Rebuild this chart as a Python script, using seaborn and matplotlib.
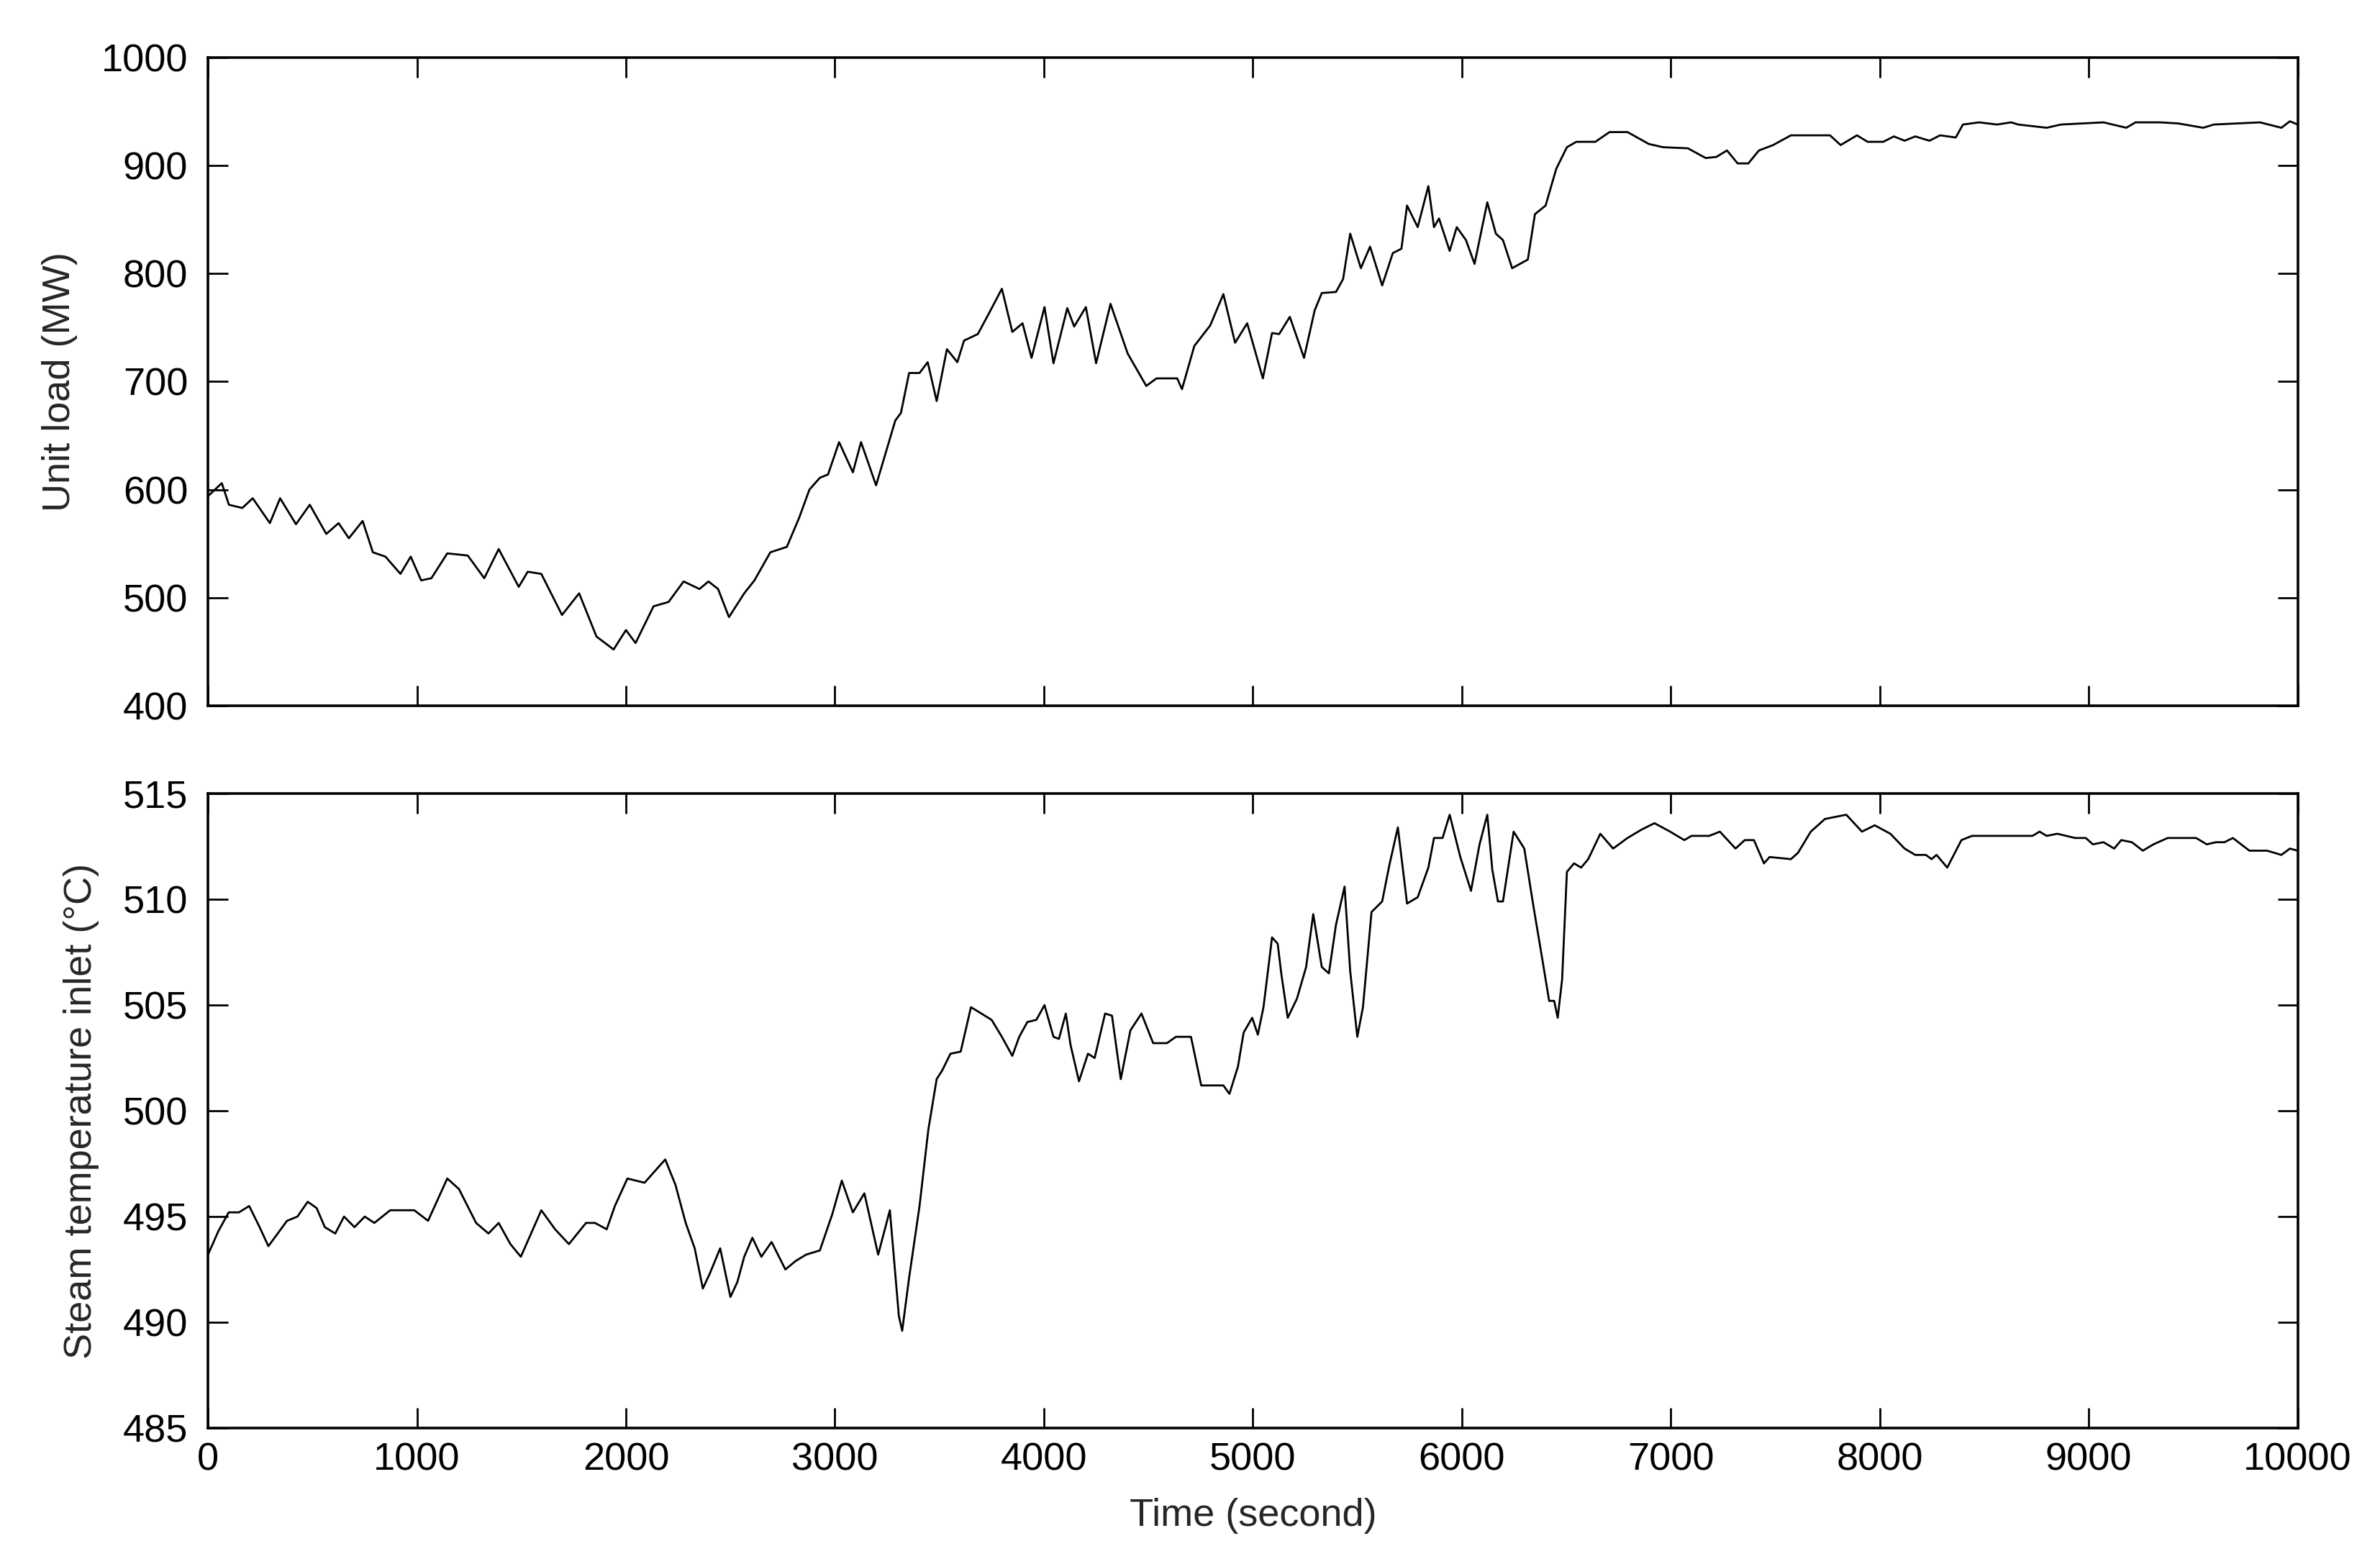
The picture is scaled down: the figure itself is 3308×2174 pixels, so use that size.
import matplotlib
matplotlib.use("Agg")
import matplotlib.pyplot as plt
import seaborn as sns
import pandas as pd
from matplotlib import font_manager

# unit load (MW)
load_time = [0, 66, 100, 164, 214, 296, 345, 421, 487, 566, 625, 674, 740, 789, 849,
             921, 970, 1020, 1069, 1145, 1243, 1322, 1391, 1487, 1530, 1595, 1694, 1776,
             1859, 1941, 2000, 2046, 2132, 2204, 2276, 2352, 2395, 2441, 2493, 2566, 2615,
             2691, 2770, 2829, 2878, 2928, 2967, 3020, 3086, 3125, 3197, 3240, 3289, 3316,
             3355, 3405, 3444, 3487, 3536, 3586, 3618, 3684, 3734, 3799, 3849, 3898, 3941,
             4003, 4046, 4112, 4145, 4201, 4250, 4319, 4401, 4490, 4539, 4638, 4661, 4720,
             4796, 4859, 4915, 4973, 5048, 5092, 5126, 5177, 5245, 5296, 5330, 5398, 5432,
             5466, 5517, 5561, 5619, 5670, 5711, 5738, 5789, 5840, 5867, 5891, 5942, 5976,
             6020, 6061, 6122, 6163, 6197, 6241, 6316, 6350, 6401, 6452, 6503, 6548, 6639,
             6707, 6793, 6895, 6963, 7082, 7167, 7218, 7269, 7320, 7371, 7422, 7490, 7575,
             7762, 7813, 7891, 7942, 8017, 8068, 8119, 8170, 8238, 8289, 8364, 8398, 8476,
             8561, 8629, 8663, 8799, 8867, 9071, 9180, 9224, 9343, 9429, 9548, 9599, 9820,
             9922, 9963, 10000]
load_mw = [594, 606, 586, 583, 592, 569, 592, 568, 586, 559, 569, 555, 571, 542, 538,
           522, 538, 516, 518, 541, 539, 518, 545, 510, 524, 522, 484, 504,
           464, 452, 470, 458, 492, 496, 515, 508, 515, 508, 482, 504, 516,
           542, 547, 574, 600, 611, 614, 644, 616, 644, 604, 632, 664, 671,
           708, 708, 718, 682, 730, 718, 738, 744, 762, 786, 746, 754, 722,
           769, 717, 768, 751, 769, 717, 772, 726, 696, 703, 703, 693, 733,
           752, 781, 736, 754, 703, 745, 744, 760, 722, 766, 782, 783, 795,
           837, 805, 825, 789, 819, 823, 863, 843, 881, 843, 851, 821, 843,
           831, 809, 866, 837, 831, 805, 813, 855, 863, 897, 917, 922, 922,
           931, 931, 920, 917, 916, 907, 908, 914, 902, 902, 914, 919, 928,
           928, 919, 928, 922, 922, 927, 923, 927, 923, 928, 926, 938, 940,
           938, 940, 938, 935, 938, 940, 935, 940, 940, 939, 935, 938, 940,
           935, 941, 938]

# steam temperature at inlet (deg C)
temp_time = [0, 49, 99, 148, 197, 247, 289, 378, 428, 477, 520, 559, 609, 651, 701,
             750, 796, 872, 987, 1053, 1145, 1201, 1283, 1342, 1391, 1447, 1497, 1595,
             1661, 1727, 1809, 1852, 1908, 1947, 2007, 2089, 2188, 2237, 2286, 2329, 2368,
             2401, 2451, 2500, 2533, 2566, 2605, 2648, 2697, 2763, 2812, 2862, 2928, 2987,
             3033, 3086, 3141, 3207, 3263, 3306, 3322, 3355, 3405, 3447, 3487, 3513, 3553,
             3602, 3651, 3701, 3750, 3799, 3849, 3882, 3921, 3964, 4003, 4046, 4072, 4105,
             4128, 4168, 4211, 4243, 4293, 4326, 4368, 4414, 4467, 4523, 4589, 4632, 4704,
             4753, 4859, 4888, 4929, 4956, 4997, 5024, 5051, 5092, 5119, 5136, 5167, 5211,
             5255, 5289, 5330, 5364, 5398, 5439, 5466, 5500, 5527, 5568, 5619, 5653, 5694,
             5738, 5789, 5840, 5867, 5908, 5942, 5993, 6044, 6085, 6122, 6146, 6173, 6197,
             6248, 6299, 6344, 6378, 6418, 6442, 6459, 6480, 6503, 6537, 6571, 6605, 6663,
             6724, 6793, 6861, 6922, 6997, 7065, 7099, 7184, 7235, 7310, 7354, 7398, 7446,
             7473, 7575, 7609, 7670, 7738, 7840, 7915, 7976, 8051, 8119, 8170, 8221, 8248,
             8272, 8323, 8391, 8442, 8595, 8731, 8765, 8799, 8850, 8935, 8986, 9020, 9071,
             9122, 9156, 9207, 9259, 9310, 9378, 9514, 9565, 9609, 9650, 9690, 9769, 9854,
             9922, 9963, 10000]
temp_c = [493.2, 494.3, 495.2, 495.2, 495.5, 494.5, 493.6, 494.8, 495.0, 495.7, 495.4, 494.5,
          494.2, 495.0, 494.5, 495.0, 494.7, 495.3, 495.3, 494.8, 496.8, 496.3, 494.7, 494.2,
          494.7, 493.7, 493.1, 495.3, 494.4, 493.7, 494.7, 494.7, 494.4, 495.5, 496.8, 496.6,
          497.7, 496.5, 494.7, 493.5, 491.6, 492.3, 493.5, 491.2, 491.9, 493.1, 494.0, 493.1,
          493.8, 492.5, 492.9, 493.2, 493.4, 495.1, 496.7, 495.2, 496.1, 493.2, 495.3, 490.3,
          489.6, 492.1, 495.5, 499.1, 501.5, 501.9, 502.7, 502.8, 504.9, 504.6, 504.3, 503.5,
          502.6, 503.5, 504.2, 504.3, 505.0, 503.5, 503.4, 504.6, 503.1, 501.4, 502.7, 502.5,
          504.6, 504.5, 501.5, 503.8, 504.6, 503.2, 503.2, 503.5, 503.5, 501.2, 501.2, 500.8,
          502.1, 503.7, 504.4, 503.6, 504.9, 508.2, 507.9, 506.5, 504.4, 505.3, 506.8, 509.3,
          506.8, 506.5, 508.8, 510.6, 506.6, 503.5, 504.9, 509.4, 509.9, 511.6, 513.4, 509.8,
          510.1, 511.5, 512.9, 512.9, 514.0, 512.0, 510.4, 512.6, 514.0, 511.4, 509.9, 509.9,
          513.2, 512.4, 509.6, 507.6, 505.2, 505.2, 504.4, 506.2, 511.3, 511.7, 511.5, 511.9,
          513.1, 512.4, 512.9, 513.3, 513.6, 513.2, 512.8, 513.0, 513.0, 513.2, 512.4, 512.8,
          512.8, 511.7, 512.0, 511.9, 512.2, 513.2, 513.8, 514.0, 513.2, 513.5, 513.1, 512.4,
          512.1, 512.1, 511.9, 512.1, 511.5, 512.8, 513.0, 513.0, 513.0, 513.2, 513.0, 513.1,
          512.9, 512.9, 512.6, 512.7, 512.4, 512.8, 512.7, 512.3, 512.6, 512.9, 512.9, 512.6,
          512.7, 512.7, 512.9, 512.3, 512.3, 512.1, 512.4, 512.3]

df_load = pd.DataFrame({"time": load_time, "load": load_mw})
df_temp = pd.DataFrame({"time": temp_time, "temp": temp_c})

sns.set_style("ticks")
# narrow font like the MATLAB export, if it is there
installed = {f.name for f in font_manager.fontManager.ttflist}
fam = [f for f in ["Liberation Sans Narrow", "Liberation Sans", "DejaVu Sans"] if f in installed]
plt.rcParams["font.family"] = fam
fs = 19.5

fig = plt.figure(figsize=(16.54, 10.87), dpi=200)
ax1 = fig.add_axes([0.0874, 0.5488, 0.878, 0.4144])
ax2 = fig.add_axes([0.0874, 0.0869, 0.878, 0.4057])

sns.lineplot(data=df_load, x="time", y="load", ax=ax1, color="black", linewidth=1.0)
sns.lineplot(data=df_temp, x="time", y="temp", ax=ax2, color="black", linewidth=1.0)

ax1.set_ylim(400, 1000)
ax1.set_yticks(range(400, 1001, 100))
ax2.set_ylim(485, 515)
ax2.set_yticks(range(485, 516, 5))

for ax in (ax1, ax2):
    ax.set_xlim(0, 10000)
    ax.set_xticks(range(0, 10001, 1000))
    ax.tick_params(direction="in", length=10, width=1.0, top=True, right=True,
                   labelsize=fs, color="black", labelcolor="black")
    ax.tick_params(axis="y", pad=10)
    ax.tick_params(axis="x", pad=7)
    for sp in ax.spines.values():
        sp.set_visible(True)
        sp.set_linewidth(1.3)
        sp.set_color("black")

ax1.set_xticklabels([])
ax1.set_xlabel("")
ax1.set_ylabel("Unit load (MW)", fontsize=fs, labelpad=12)
ax2.set_ylabel("Steam temperature inlet (°C)", fontsize=fs, labelpad=12)
ax2.set_xlabel("Time (second)", fontsize=fs, labelpad=10)

fig.savefig("out.png", dpi=200, facecolor="white")
